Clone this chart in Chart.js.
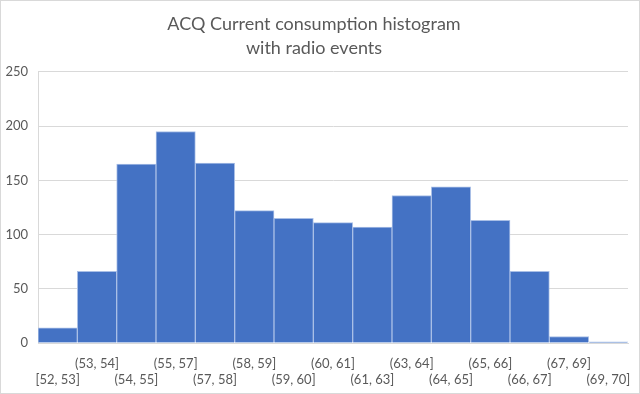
<!DOCTYPE html>
<html>
<head>
<meta charset="utf-8">
<script src="https://cdn.jsdelivr.net/npm/chart.js"></script>
<style>
  html, body { margin: 0; padding: 0; background: #fff; }
  #wrap { width: 640px; height: 394px; position: relative; }
</style>
</head>
<body>
<div id="wrap"><canvas id="chart_hist"></canvas></div>
<script>
// bins of current (mA) and counts
const bins = ['[52, 53]', '(53, 54]', '(54, 55]', '(55, 57]', '(57, 58]', '(58, 59]', '(59, 60]', '(60, 61]',
  '(61, 63]', '(63, 64]', '(64, 65]', '(65, 66]', '(66, 67]', '(67, 69]', '(69, 70]']
const counts = [14, 66, 165, 195, 166, 122, 115, 111, 107, 136, 144, 113, 66, 6, 1]
const yTicks = [0, 50, 100, 150, 200, 250]
const titleLines = ['ACQ Current consumption histogram', 'with radio events']

const FONT = 'Lato, "Open Sans", sans-serif'
const GREY = '#595959'

// staggered labels like Excel: even bins on the lower row, odd bins on the upper row
const xLabels = bins.map((b, i) => i % 2 === 0 ? ['', b] : [b, ''])

const framePlugin = {
  id: 'frame',
  afterDraw(chart){
    const ctx = chart.ctx
    ctx.save()
    ctx.strokeStyle = '#d9d9d9'
    ctx.lineWidth = 1
    ctx.strokeRect(0.5, 0.5, chart.width - 1, chart.height - 1)
    ctx.restore()
  }
}

new Chart(document.getElementById('chart_hist'), {
  type: 'bar',
  data: {
    labels: xLabels,
    datasets: [{
      label: 'count',
      data: counts,
      backgroundColor: '#4472c4',
      borderColor: '#a9bfe6',
      borderWidth: 1,
      barPercentage: 1,
      categoryPercentage: 1
    }]
  },
  options: {
    responsive: true,
    maintainAspectRatio: false,
    animation: false,
    layout: { padding: { left: 0, right: 12, top: 0, bottom: 0 } },
    plugins: {
      legend: { display: false },
      tooltip: { enabled: false },
      title: {
        display: true,
        text: titleLines,
        color: GREY,
        font: { family: FONT, size: 18, weight: 'normal', lineHeight: 1.33 },
        padding: { top: 12, bottom: 12 }
      }
    },
    scales: {
      x: {
        grid: { display: false, drawTicks: false },
        border: { display: true, color: '#d9d9d9' },
        ticks: {
          color: GREY,
          font: { family: FONT, size: 13 },
          maxRotation: 0,
          autoSkip: false,
          padding: 13
        },
        afterFit(scale){
          scale.height = 51
          // let the last label hang past the plot like Excel does
          scale.paddingLeft = 0
          scale.paddingRight = 0
        }
      },
      y: {
        min: 0,
        max: 250,
        afterBuildTicks(scale){ scale.ticks = yTicks.map(v => ({ value: v })) },
        grid: { color: '#d9d9d9', drawTicks: false },
        border: { display: true, color: '#d9d9d9' },
        ticks: {
          color: GREY,
          font: { family: FONT, size: 13 },
          padding: 10
        },
        afterFit(scale){ scale.width = 38 }
      }
    }
  },
  plugins: [framePlugin]
})
</script>
</body>
</html>
